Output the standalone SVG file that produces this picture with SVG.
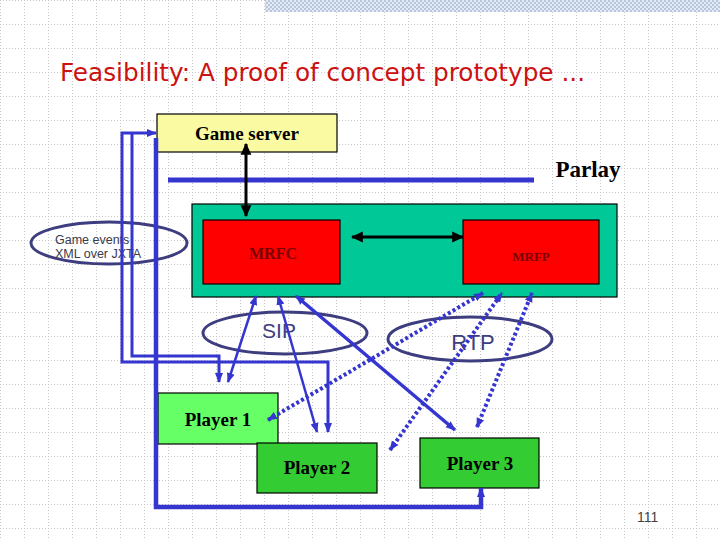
<svg xmlns="http://www.w3.org/2000/svg" width="720" height="540" viewBox="0 0 720 540">
<defs>
<pattern id="grid" width="24" height="24" patternUnits="userSpaceOnUse">
<path d="M0,0.5 H24 M0.5,0 V24" stroke="#c8c8c8" stroke-width="1" stroke-dasharray="1,2" fill="none"/>
</pattern>
<pattern id="hatch" width="4" height="4" patternUnits="userSpaceOnUse">
<rect width="4" height="4" fill="#e4eaf4"/>
<rect width="2" height="2" fill="#b8c6de"/>
<rect x="2" y="2" width="2" height="2" fill="#b8c6de"/>
</pattern>
<marker id="ab" viewBox="0 0 10 10" refX="9" refY="5" markerWidth="10" markerHeight="10" markerUnits="userSpaceOnUse" orient="auto-start-reverse">
<path d="M0,1 L10,5 L0,9 z" fill="#3535d0"/>
</marker>
<marker id="ak" viewBox="0 0 10 10" refX="9" refY="5" markerWidth="12" markerHeight="12" markerUnits="userSpaceOnUse" orient="auto-start-reverse">
<path d="M0,0.5 L10,5 L0,9.5 z" fill="#000"/>
</marker>
</defs>
<style>
.box{stroke:#000;stroke-width:1.2}
.lbl{font-family:"Liberation Serif","Times New Roman",serif;font-weight:bold;fill:#000;text-anchor:middle}
.ell{fill:none;stroke:#3d3d80;stroke-width:3}
.elt{font-family:"Liberation Sans",Arial,sans-serif;fill:#3d3d80;text-anchor:middle}
.blue{fill:none;stroke:#3535d0;stroke-linejoin:miter}
.dot{fill:none;stroke:#3535d0;stroke-width:4;stroke-dasharray:3,2.5}
</style>
<rect width="720" height="540" fill="#fff"/>
<rect width="720" height="540" fill="url(#grid)"/>
<rect x="265" y="0" width="455" height="12" fill="url(#hatch)"/>

<text x="60" y="81" font-family="DejaVu Sans,Verdana,sans-serif" font-size="24" fill="#cc1111" textLength="525" lengthAdjust="spacingAndGlyphs">Feasibility: A proof of concept prototype ...</text>

<g id="parlay">
<line x1="168" y1="180" x2="534" y2="180" stroke="#3535d0" stroke-width="5"/>
<text class="lbl" x="588" y="177" font-size="23">Parlay</text>
</g>

<g id="game-server">
<rect class="box" x="157" y="114" width="180" height="38" fill="#fafaa2"/>
<text class="lbl" x="247" y="140" font-size="19">Game server</text>
</g>

<g id="network">
<rect class="box" x="192" y="204" width="425" height="93" fill="#00c896"/>
</g>

<g id="mrfc">
<rect class="box" x="203" y="220" width="137" height="64" fill="#ff0000"/>
<text class="lbl" x="273" y="259" font-size="16" style="fill:#7a0000">MRFC</text>
</g>

<g id="mrfp">
<rect class="box" x="463" y="220" width="136" height="64" fill="#ff0000"/>
<text class="lbl" x="531" y="261" font-size="13" style="fill:#7a0000">MRFP</text>
</g>

<g id="game-events">
<ellipse class="ell" cx="109" cy="243" rx="78" ry="21"/>
<text x="55" y="244" font-family="Liberation Sans,Arial,sans-serif" font-size="12.5" fill="#3a3a4a">Game events</text>
<text x="55" y="258" font-family="Liberation Sans,Arial,sans-serif" font-size="12.5" fill="#3a3a4a">XML over JXTA</text>
</g>

<g id="sip">
<ellipse class="ell" cx="285" cy="333" rx="82" ry="21"/>
<text class="elt" x="279" y="338" font-size="21">SIP</text>
</g>

<g id="rtp">
<ellipse class="ell" cx="470" cy="339" rx="82" ry="22"/>
<text class="elt" x="473" y="350" font-size="22">RTP</text>
</g>

<g id="player1">
<rect class="box" x="158" y="393" width="120" height="51" fill="#66ff66"/>
<text class="lbl" x="218" y="426" font-size="19">Player 1</text>
</g>

<g id="player2">
<rect class="box" x="257" y="443" width="120" height="50" fill="#33cc33"/>
<text class="lbl" x="317" y="474" font-size="19">Player 2</text>
</g>

<g id="player3">
<rect class="box" x="420" y="438" width="119" height="50" fill="#33cc33"/>
<text class="lbl" x="480" y="470" font-size="19">Player 3</text>
</g>

<g id="connectors">
<line x1="246" y1="144" x2="246" y2="216" stroke="#000" stroke-width="3" marker-start="url(#ak)" marker-end="url(#ak)"/>
<line x1="352" y1="237" x2="463" y2="237" stroke="#000" stroke-width="3" marker-start="url(#ak)" marker-end="url(#ak)"/>

<path class="blue" stroke-width="3" d="M328,432 L328,362 L122,362 L122,133 L156,133" marker-start="url(#ab)" marker-end="url(#ab)"/>
<path class="blue" stroke-width="3" d="M219,382 L219,356 L132,356 L132,133" marker-start="url(#ab)"/>
<path class="blue" stroke-width="4.5" d="M156,138 L156,507 L481,507 L481,488" marker-end="url(#ab)"/>

<line class="blue" stroke-width="2.5" x1="256" y1="296" x2="228" y2="382" marker-start="url(#ab)" marker-end="url(#ab)"/>
<line class="blue" stroke-width="2.5" x1="278" y1="296" x2="317" y2="432" marker-start="url(#ab)" marker-end="url(#ab)"/>
<line class="blue" stroke-width="3.5" x1="296" y1="296" x2="455" y2="430" marker-start="url(#ab)" marker-end="url(#ab)"/>

<line class="dot" x1="268" y1="420" x2="483" y2="293" marker-start="url(#ab)" marker-end="url(#ab)"/>
<line class="dot" x1="390" y1="450" x2="502" y2="293" marker-start="url(#ab)" marker-end="url(#ab)"/>
<line class="dot" x1="477" y1="427" x2="532" y2="293" marker-start="url(#ab)" marker-end="url(#ab)"/>
</g>

<text x="637" y="522" font-family="Liberation Sans,Arial,sans-serif" font-size="14" fill="#444">111</text>
</svg>
